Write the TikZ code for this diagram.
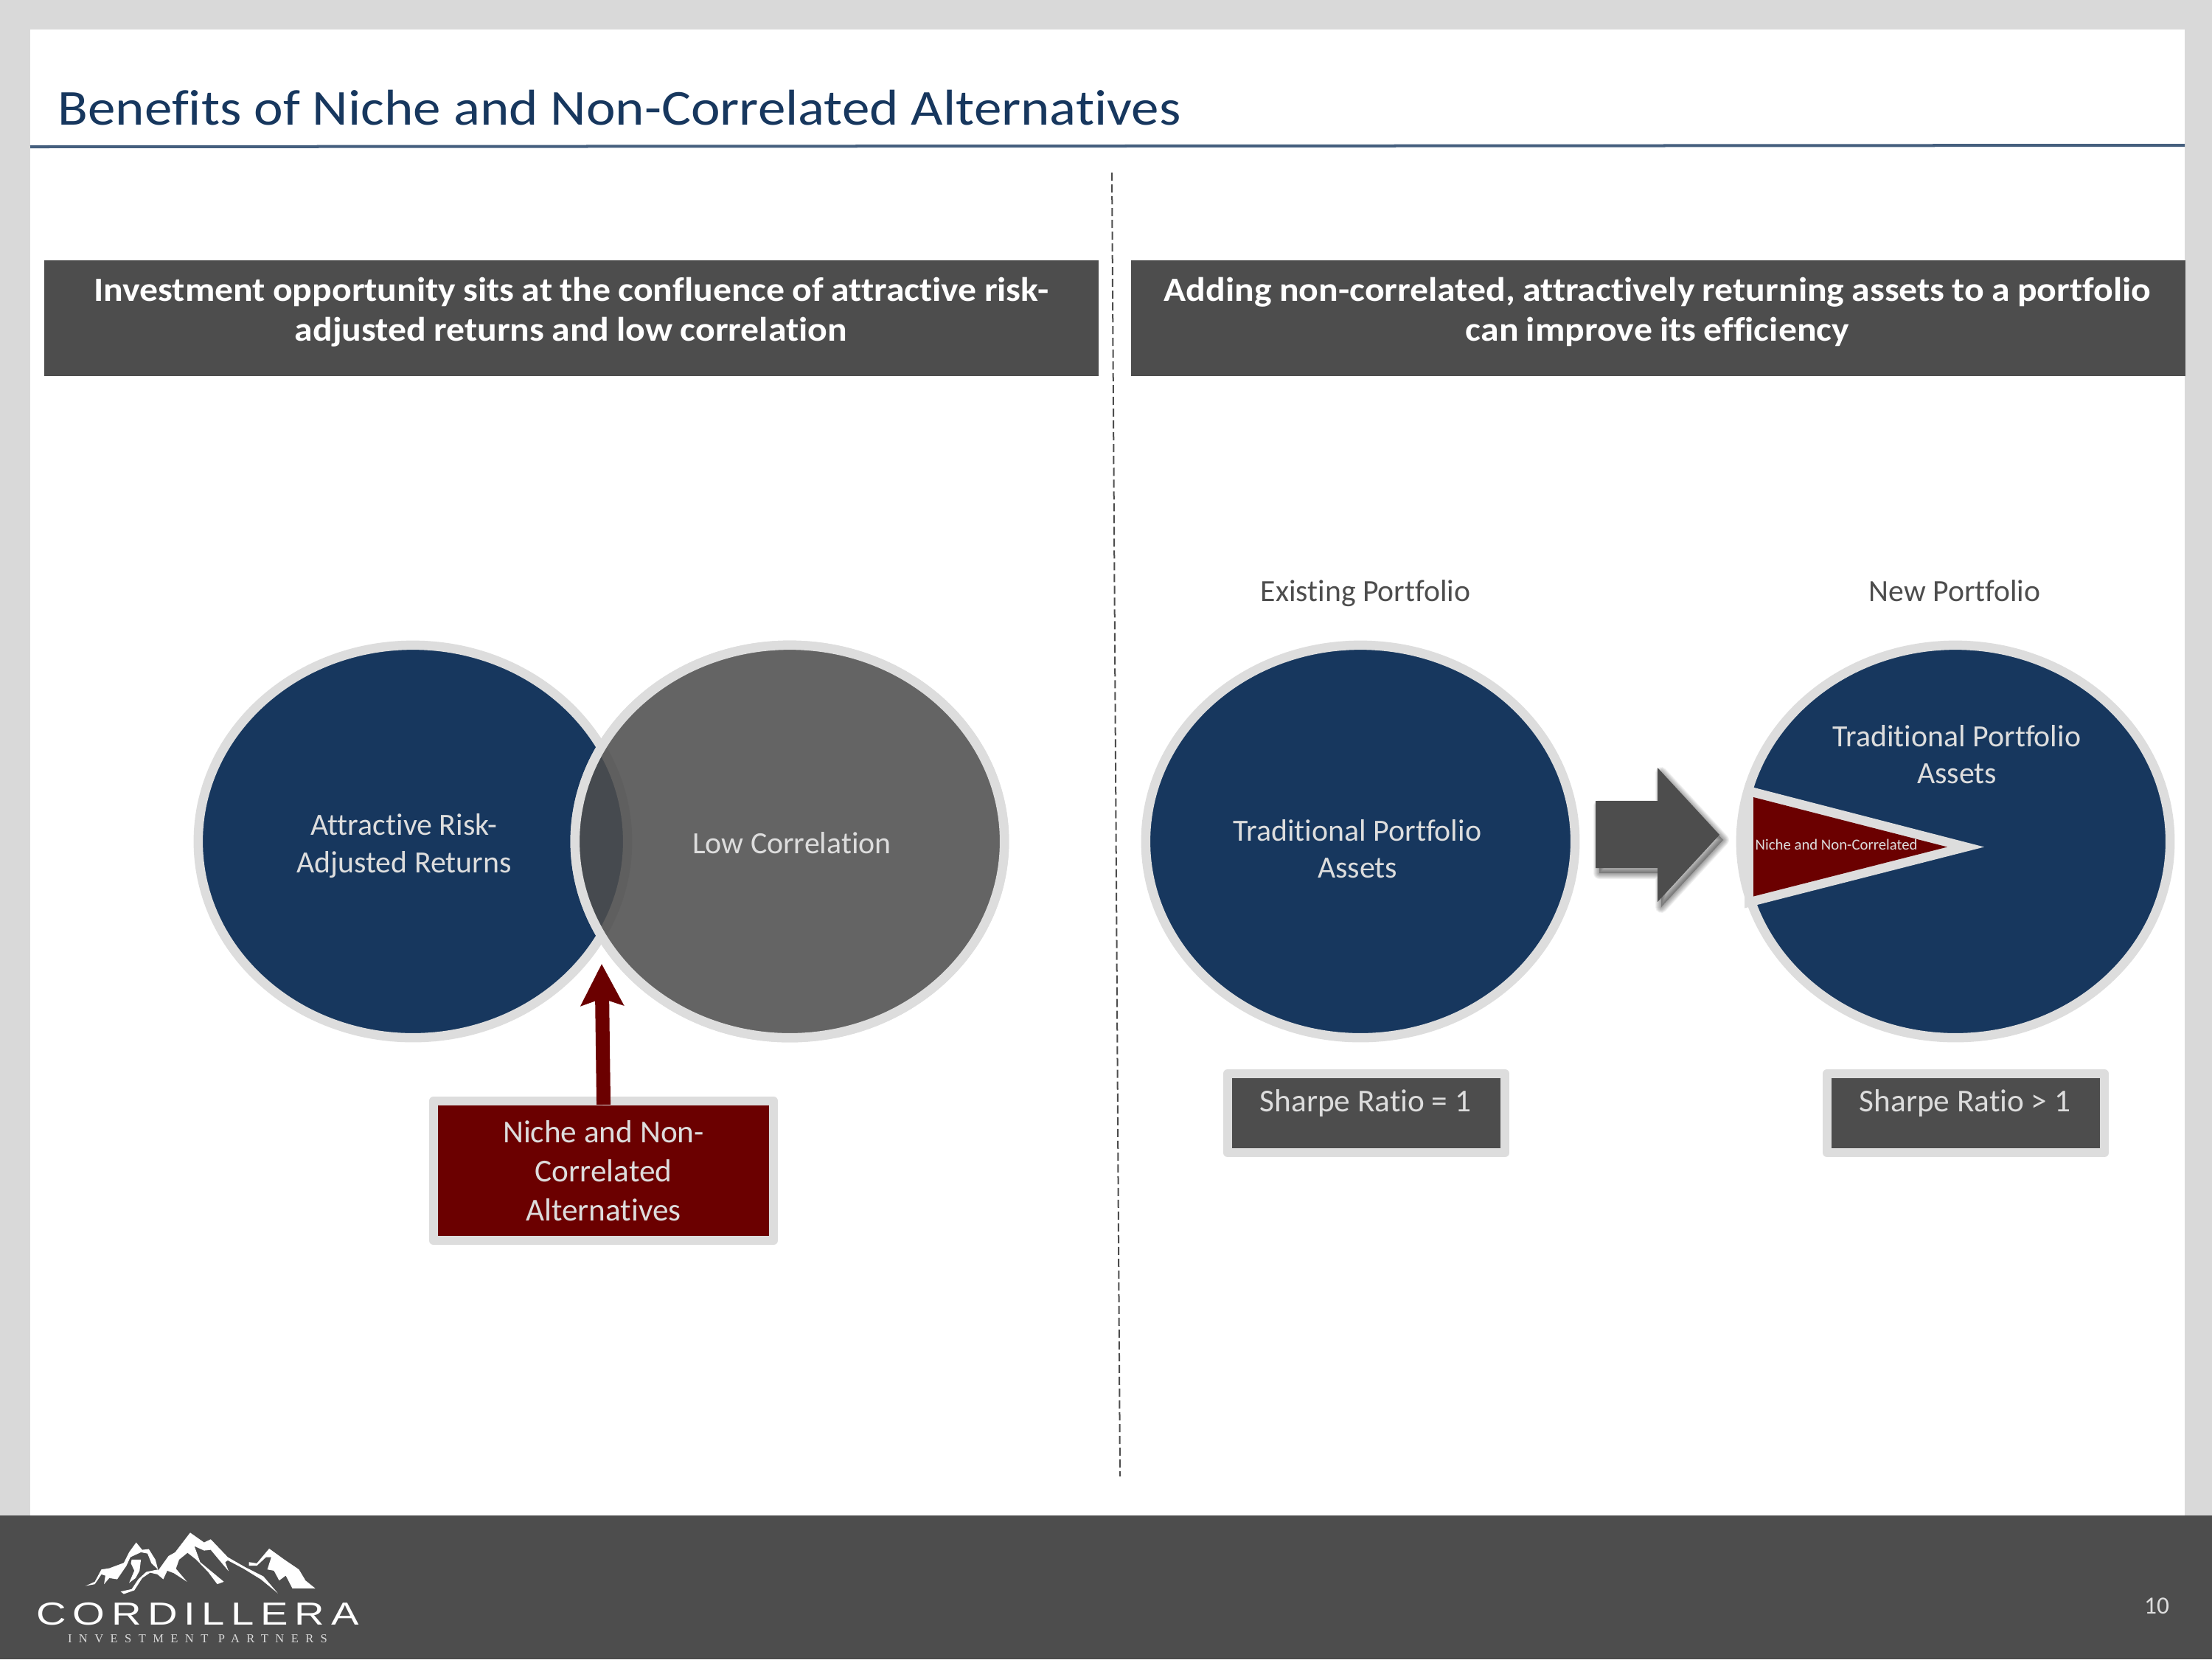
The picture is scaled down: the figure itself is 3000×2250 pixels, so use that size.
\documentclass[tikz,border=0pt]{standalone}
\usepackage{fontspec}
\setmainfont[Ligatures=NoCommon]{Carlito}
\newfontfamily\titlefont[Ligatures=NoCommon,FakeStretch=1.10]{Carlito}
\newfontfamily\hdrfont[Ligatures=NoCommon,FakeStretch=1.08,WordSpace=0.9]{Carlito}
\newfontfamily\logosans[FakeStretch=1.3,LetterSpace=20]{Liberation Sans}
\newfontfamily\logoserif[LetterSpace=57]{Liberation Serif}
\usetikzlibrary{shapes.geometric,arrows.meta}
\definecolor{navy}{HTML}{17375E}
\definecolor{char}{HTML}{4D4D4D}
\definecolor{rim}{HTML}{DDDDDD}
\definecolor{maroon}{HTML}{6B0000}
\definecolor{frame}{HTML}{D9D9D9}
\newcommand{\pxfont}[2]{\fontsize{#1}{#2}\selectfont}
\tikzset{
  x=0.01cm,y=-0.01cm,
  ell/.style={ellipse,draw=rim,line width=0.125cm,inner sep=0pt,outer sep=0pt,minimum width=5.82cm,minimum height=5.32cm},
  lbl/.style={text=rim,align=center,inner sep=0pt,font=\pxfont{11.9}{14.3}},
  hdrbox/.style={fill=char,inner sep=0pt,minimum height=1.57cm,minimum width=14.29cm,anchor=north west},
  hdrtext/.style={text=white,align=center,inner sep=0pt,font=\hdrfont\bfseries\pxfont{13.1}{15.4}},
  sharpe/.style={draw=rim,fill=char,line width=0.12cm,line join=round,inner sep=0pt,outer sep=0pt,minimum width=3.76cm,minimum height=1.07cm},
  captext/.style={text=char,font=\pxfont{11.85}{14},inner sep=0pt,anchor=base},
}
\begin{document}
\begin{tikzpicture}
\useasboundingbox (0,0) rectangle (3000,2250);
\fill[frame] (0,0) rectangle (3000,2250);
\fill[white] (41,40) rectangle (2963,2055);
\fill[char] (0,2055) rectangle (3000,2250);
% title
\node[anchor=base west,inner sep=0pt,text=navy,font=\titlefont\pxfont{19.4}{23}] (title) at (78,169) {Benefits of Niche and Non-Correlated Alternatives};
\coordinate (ruleA) at (41,199); \coordinate (ruleB) at (2963,197);
\draw[color=navy!80!white,line width=0.04cm] (ruleA) -- (ruleB);
% divider
\coordinate (divA) at (1508,234); \coordinate (divB) at (1519,2002);
\draw[color=char,line width=0.02cm,dash pattern=on 0.11cm off 0.05cm] (divA) -- (divB);
% headers
\node[hdrbox] (hl) at (59.5,352) {};
\node[hdrbox] (hr) at (1533.5,352) {};
\node[hdrtext] (hlt) at (774.5,423) {Investment opportunity sits at the confluence of attractive risk-\\adjusted returns and low correlation};
\node[hdrtext] (hrt) at (2248,423) {Adding non-correlated, attractively returning assets to a portfolio\\can improve its efficiency};
% venn
\node[ell,fill=navy] (va) at (560,1141) {};
\node[ell,fill=none] (vb) at (1071,1141) {};
\fill[char,fill opacity=0.87] (vb.center) ellipse [x radius=2.91cm,y radius=2.66cm];
\node[ell,fill=none] at (1071,1141) {};
\node[lbl] (ta) at (548,1147) {Attractive Risk-\\Adjusted Returns};
\node[lbl] (tb) at (1074,1143) {Low Correlation};
% callout
\node[draw=rim,fill=maroon,line width=0.12cm,line join=round,inner sep=0pt,outer sep=0pt,minimum width=4.61cm,minimum height=1.89cm,lbl,font=\pxfont{12.3}{15}] (alt) at (818.5,1587.5) {Niche and Non-\\Correlated\\Alternatives};
\coordinate (tip) at (816,1307);
\draw[color=maroon,line width=0.19cm,shorten <=-0.05cm,-{Stealth[length=0.56cm,width=0.57cm,inset=0.09cm]}] (alt.north) -- (tip);
% existing portfolio
\node[captext] (ep) at (1852,815) {Existing Portfolio};
\node[ell,fill=navy] (ce) at (1845,1141) {};
\node[lbl] (te) at (1841,1151) {Traditional Portfolio\\Assets};
\node[sharpe] (se) at (1853,1509.5) {};
\node[lbl,anchor=north,font=\pxfont{12.3}{15}] (ste) at (1852,1477) {Sharpe Ratio = 1};
% big arrow
\fill[black,opacity=0.25] (2169,1093) -- (2253,1093) -- (2253,1048) -- (2337,1139) -- (2253,1230) -- (2253,1184) -- (2169,1184) -- cycle;
\foreach \w in {0.16,0.14,0.12,0.10,0.08,0.06,0.04,0.02}{
  \draw[black,opacity=0.05,line width=\w cm,line join=round] (2169,1093) -- (2253,1093) -- (2253,1048) -- (2337,1139) -- (2253,1230) -- (2253,1184) -- (2169,1184) -- cycle;
}
\fill[char] (2164,1086) -- (2248,1086) -- (2248,1041) -- (2332,1132) -- (2248,1223) -- (2248,1177) -- (2164,1177) -- cycle;
% new portfolio
\node[captext] (np) at (2651,815) {New Portfolio};
\node[ell,fill=navy] (cn) at (2652,1141) {};
\fill[rim] (2366,1065) -- (2379,1068) -- (2691,1148.5) -- (2383,1227) -- (2366,1231.5) -- cycle;
\fill[maroon] (2378,1081) -- (2641,1148.5) -- (2378,1215.5) -- cycle;
\node[lbl,anchor=base west,font=\pxfont{5.9}{7}] (tw) at (2380,1152) {Niche and Non-Correlated};
\node[lbl] (tn) at (2654,1023) {Traditional Portfolio\\Assets};
\node[sharpe] (sn) at (2666,1509.5) {};
\node[lbl,anchor=north,font=\pxfont{12.3}{15}] (stn) at (2665,1477) {Sharpe Ratio > 1};
% logo
\begin{scope}[shift={(0,2040)},x=0.003571cm,y=-0.003333cm]
\fill[white] (600,270)--(640,210)--(665,195)--(722,115)--(775,155)--(800,142)--(865,215)--(930,255)--(1000,293)--(1055,362)--(990,305)--(925,262)--(865,228)--(855,235)--(868,272)--(835,230)--(800,185)--(775,188)--(738,170)--(760,235)--(850,315)--(825,325)--(790,275)--(745,225)--(712,197)--(680,225)--(668,262)--(710,315)--(660,280)--(635,270)--(620,305)--(598,285)--(570,278)--(540,300)--(510,350)--(470,365)--(458,355)--(500,345)--(525,305)--(555,275)--(600,265)--cycle;
\fill[white] (945,235)--(975,240)--(1022,180)--(1080,225)--(1135,265)--(1160,310)--(1197,342)--(1110,342)--(1085,290)--(1060,310)--(1040,270)--(1015,265)--(1030,215)--(1010,215)--(975,250)--(945,250)--cycle;
\fill[white] (325,332)--(360,315)--(385,265)--(415,260)--(470,238)--(490,195)--(517,155)--(540,185)--(565,182)--(590,225)--(600,265)--(575,240)--(560,200)--(535,195)--(495,215)--(480,250)--(445,305)--(415,300)--(395,325)--(400,290)--(385,285)--(360,325)--cycle;
\fill[white] (500,225)--(535,225)--(530,270)--(515,300)--(490,320)--(510,270)--(497,240)--cycle;
\end{scope}
\node[anchor=base,inner sep=0pt,text=white,font={\logosans\pxfont{12.3}{15}}] (lg1) at (268,2203) {CORDILLERA};
\node[anchor=base,inner sep=0pt,text=frame,font={\logoserif\pxfont{4.7}{6}}] (lg2) at (268,2227) {INVESTMENT PARTNERS};
\node[text=rim,inner sep=0pt,font=\pxfont{9.5}{11}] (pg) at (2925,2178) {10};
\end{tikzpicture}
\end{document}
